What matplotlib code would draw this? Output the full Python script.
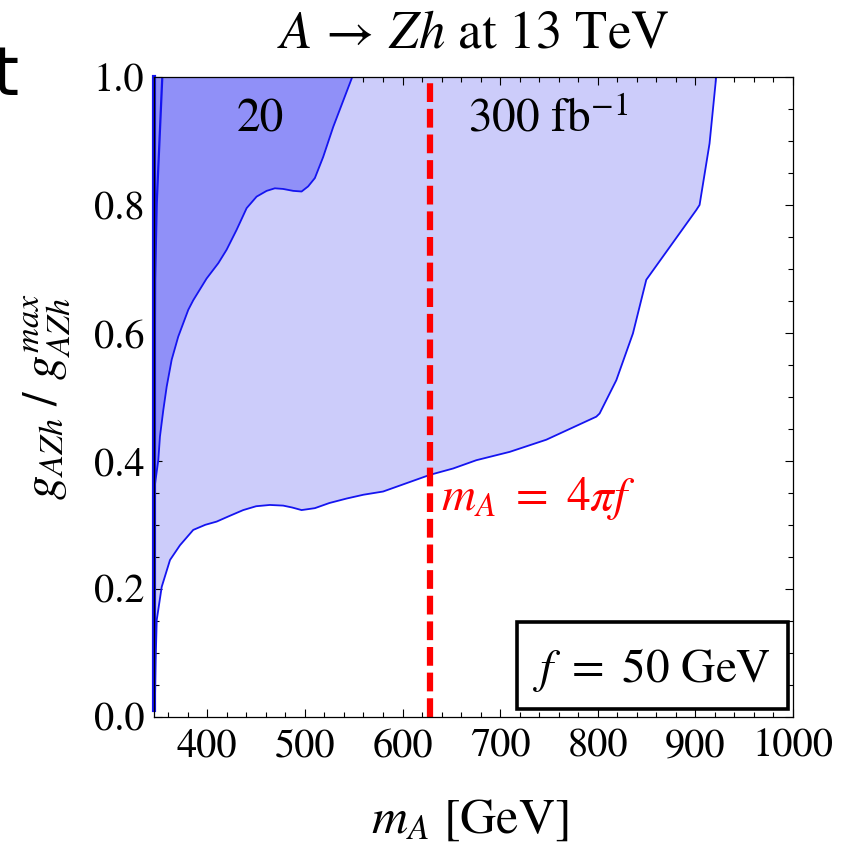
import numpy as np
import matplotlib
matplotlib.use("Agg")
import matplotlib.pyplot as plt
from matplotlib.patches import Rectangle
from matplotlib.ticker import MultipleLocator

plt.rcParams['font.family'] = ['STIXGeneral', 'DejaVu Sans']
plt.rcParams['mathtext.fontset'] = 'stix'

# ---------------- data ----------------
x_range = [345.4, 1000.0]
y_range = [0.0, 1.0]

# 300 fb^-1 region: lower/right boundary (from left axis to the top)
lum300_x = [345.4, 346.4, 347.1, 348.2, 353.3, 361.8, 372.0, 385.6, 398.0, 409.6,
            423.0, 436.8, 450.0, 464.1, 477.7, 487.0, 496.6, 510.2, 525.0, 542.6,
            560.0, 580.1, 604.0, 627.9, 651.8, 675.7, 709.8, 747.3, 798.5, 801.9,
            819.0, 836.0, 849.7, 900.9, 904.3, 914.5, 921.3]
lum300_y = [0.010, 0.026, 0.088, 0.151, 0.203, 0.245, 0.268, 0.292, 0.300, 0.305,
            0.314, 0.323, 0.329, 0.331, 0.330, 0.327, 0.323, 0.326, 0.334, 0.341,
            0.347, 0.352, 0.365, 0.378, 0.388, 0.401, 0.414, 0.433, 0.469, 0.474,
            0.526, 0.599, 0.683, 0.792, 0.800, 0.896, 1.000]

# 20 fb^-1 region: right/lower boundary (from the top down to the left axis)
lum20_x = [548.5, 529.0, 518.7, 510.2, 503.3, 496.6, 488.0, 477.7, 469.2, 460.8,
           450.5, 440.3, 430.0, 419.8, 411.3, 399.3, 385.6, 380.5, 370.2, 363.5,
           358.4, 354.9, 351.5, 349.8, 347.0, 345.4]
lum20_y = [1.000, 0.922, 0.875, 0.842, 0.829, 0.821, 0.822, 0.825, 0.826, 0.822,
           0.813, 0.795, 0.761, 0.730, 0.709, 0.685, 0.651, 0.636, 0.594, 0.558,
           0.516, 0.479, 0.438, 0.401, 0.370, 0.350]

# 20 fb^-1 region: left boundary line
lum20_left_x = [353.9, 348.2, 346.5, 345.6]
lum20_left_y = [1.000, 0.803, 0.683, 0.350]

f_GeV = 50.0
mA_line = 4 * np.pi * f_GeV

# ---------------- figure ----------------
W, H = 852, 850
fig = plt.figure(figsize=(W / 100, H / 100), dpi=100)
ax = fig.add_axes([154 / W, 1 - 716.7 / H, 639 / W, 639.7 / H])

light = '#CCCCFA'
dark = '#9090F8'
edge = '#1414F0'

x0 = x_range[0]
ax.fill(np.concatenate([lum300_x, [x0]]), np.concatenate([lum300_y, [1.0]]),
        color=light, lw=0, zorder=1)
ax.fill(np.concatenate([[x0], lum20_x]), np.concatenate([[1.0], lum20_y]),
        color=dark, lw=0, zorder=2)

ax.plot(lum300_x, lum300_y, color=edge, lw=1.3, zorder=3)
ax.plot(lum20_x, lum20_y, color=edge, lw=1.3, zorder=3)
ax.plot(lum20_left_x, lum20_left_y, color=edge, lw=1.6, zorder=3)
ax.plot([x0, x0], [lum300_y[0], 1.0], color=edge, lw=3, zorder=3, clip_on=False)

ax.axvline(mA_line, color='#FF0000', lw=4.5, dashes=(3.0, 1.1), zorder=4)

ax.set_xlim(*x_range)
ax.set_ylim(*y_range)

ax.xaxis.set_major_locator(MultipleLocator(100))
ax.xaxis.set_minor_locator(MultipleLocator(20))
ax.yaxis.set_major_locator(MultipleLocator(0.2))
ax.yaxis.set_minor_locator(MultipleLocator(0.05))
ax.yaxis.set_major_formatter(matplotlib.ticker.FormatStrFormatter('%.1f'))

ax.tick_params(which='both', direction='in', top=True, right=True, width=0.8,
               labelsize=29, colors='black')
ax.tick_params(which='major', length=5.8)
ax.tick_params(which='minor', length=3.4)
ax.tick_params(axis='x', pad=8)
ax.tick_params(axis='y', pad=7)
for s in ax.spines.values():
    s.set_linewidth(0.9)
    s.set_zorder(5)

ax.set_xlabel(r'$m_A$ [GeV]', fontsize=36)
ax.xaxis.set_label_coords(0.4945, -0.128)
ax.set_ylabel(r'$g_{AZh}\ /\ g_{AZh}^{max}$', fontsize=35)
ax.yaxis.set_label_coords(-0.128, 0.5)

fig.text(473.5 / W, 1 - 47 / H, r'$A\,\rightarrow\,Zh$ at 13 TeV', fontsize=38,
         ha='center', va='baseline')

ax.text(0.167, 0.9145, '20', transform=ax.transAxes, fontsize=34,
        ha='center', va='baseline', zorder=6)
ax.text(0.6166, 0.9145, r'300 fb$^{-1}$', transform=ax.transAxes, fontsize=34,
        ha='center', va='baseline', zorder=6)

ax.text(mA_line + 11.5, 0.323, r'$m_A\ =\ \mathit{4}\pi f$', color='#FF0000',
        fontsize=34, ha='left', va='baseline', zorder=6)

ax.add_patch(Rectangle((0.5676, 0.0116), 0.9926 - 0.5676, 0.1485 - 0.0116,
                       transform=ax.transAxes, fill=True, facecolor='white',
                       edgecolor='black', lw=2.6, zorder=6))
ax.text(0.7786, 0.0547, r'$f\ =\ $50 GeV', transform=ax.transAxes, fontsize=34,
        ha='center', va='baseline', zorder=7)

fig.text(18 / W, 1 - 95 / H, 't', fontsize=48, family='DejaVu Sans',
         ha='right', va='baseline')

fig.savefig('out.png', dpi=100)
